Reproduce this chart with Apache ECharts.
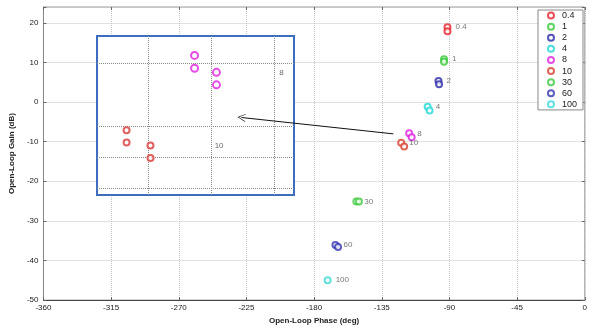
<!DOCTYPE html>
<html>
<head>
<meta charset="utf-8">
<script src="https://cdn.jsdelivr.net/npm/echarts@6/dist/echarts.min.js"></script>
<style>
html,body{margin:0;padding:0;background:#fff;}
#c{width:590px;height:330px;}
</style>
</head>
<body>
<div id="c"></div>
<script>
// ---- data ----
const seriesNames = ['0.4','1','2','4','8','10','30','60','100'];
const phase04 = [-91.3, -91.3];   const gain04 = [18.9, 17.9];
const phase1  = [-93.6, -93.6];   const gain1  = [10.8, 10.2];
const phase2  = [-97.3, -96.9];   const gain2  = [5.3, 4.5];
const phase4  = [-104.5, -103.2]; const gain4  = [-1.2, -2.1];
const phase8  = [-116.8, -115.1]; const gain8  = [-7.9, -8.9];
const phase10 = [-122.1, -120.1]; const gain10 = [-10.3, -11.2];
const phase30 = [-151.9, -150.2]; const gain30 = [-25.1, -25.1];
const phase60 = [-165.8, -164.1]; const gain60 = [-36.1, -36.6];
const phase100= [-171.0];         const gain100= [-45.0];
const phaseSets = [phase04, phase1, phase2, phase4, phase8, phase10, phase30, phase60, phase100];
const gainSets  = [gain04, gain1, gain2, gain4, gain8, gain10, gain30, gain60, gain100];

const xTicks = [-360, 0, 45];   // min, max, interval
const yTicks = [-50, 24, 10];

// inset (magnified view of the 8 and 10 groups)
const insetPhase8 = [-121.3, -121.3, -119.56, -119.56];
const insetGain8  = [-5.74, -6.15, -6.28, -6.68];
const insetPhase10 = [-126.7, -126.7, -124.8, -124.8];
const insetGain10  = [-8.13, -8.52, -8.62, -9.02];
const insetLabelText = ['8', '10'];
const insetLabelPhase = [-114.4, -119.35];
const insetLabelGain = [-6.29, -8.62];
const insetGridPhase = [-125, -120, -115];
const insetGridGain = [-6, -8, -9, -10];
const insetRangePhase = [-129.05, -113.4];
const insetRangeGain = [-10.2, -5.12];

// arrow from the main 8/10 group to the inset
const arrowFrom = [-127.3, -8.03];
const arrowTo = [-228.3, -3.9];

// ---- styles ----
const colors = ['#e3262c','#36c936','#2a2aa6','#22d8d8','#dd22dd','#d8402e','#3fc93f','#3434b0','#3cdada'];
const font = 'Liberation Sans, Arial, sans-serif';

const chart = echarts.init(document.getElementById('c'));

const mainSeries = seriesNames.map((name, i) => ({
  name: name,
  type: 'scatter',
  xAxisIndex: 0, yAxisIndex: 0,
  symbol: 'emptyCircle',
  symbolSize: 6,
  itemStyle: { color: colors[i], borderColor: colors[i], borderWidth: 2.5 },
  z: 3,
  data: phaseSets[i].map((p, k) => {
    const d = { value: [p, gainSets[i][k]] };
    if (k === 0) {
      d.label = { show: true, position: 'right', distance: 4, formatter: name,
        color: '#555', fontSize: 8, fontFamily: font };
    }
    return d;
  })
}));

const option = {
  animation: false,
  backgroundColor: '#fff',
  textStyle: { fontFamily: font },
  legend: {
    data: seriesNames,
    orient: 'vertical',
    right: 7, top: 10,
    padding: [0, 6, 0, 9],
    itemGap: 0,
    itemWidth: 12, itemHeight: 6,
    borderColor: '#888', borderWidth: 1,
    backgroundColor: '#fff',
    textStyle: { fontSize: 9, color: '#222', lineHeight: 11.1, fontFamily: font },
    itemStyle: { borderWidth: 2 }
  },
  grid: [
    { left: 41, right: 5, top: 7, bottom: 25, show: true, borderColor: '#999', borderWidth: 1, backgroundColor: '#fff' },
    { left: 97, top: 36, width: 197, height: 159, show: true, backgroundColor: '#fff', borderColor: '#3d6dbf', borderWidth: 2, z: 5 }
  ],
  xAxis: [
    { type: 'value', gridIndex: 0, min: xTicks[0], max: xTicks[1], interval: xTicks[2],
      name: 'Open-Loop Phase (deg)', nameLocation: 'middle', nameGap: 12,
      nameTextStyle: { fontSize: 8, color: '#222', fontWeight: 'bold', fontFamily: font },
      axisLine: { show: true, onZero: false, lineStyle: { color: '#444' } },
      axisTick: { show: true, inside: true, length: 3, lineStyle: { color: '#666' } },
      axisLabel: { fontSize: 8, color: '#222', margin: 4, fontFamily: font },
      splitLine: { show: true, lineStyle: { color: '#c4c4c4', type: 'dotted', width: 1 } } },
    { type: 'value', gridIndex: 0, position: 'top', min: xTicks[0], max: xTicks[1], interval: xTicks[2],
      axisLine: { show: false, onZero: false }, axisLabel: { show: false },
      axisTick: { show: true, inside: true, length: 3, lineStyle: { color: '#666' } },
      splitLine: { show: false } },
    { type: 'value', gridIndex: 1, min: insetRangePhase[0], max: insetRangePhase[1], show: false, z: 6 }
  ],
  yAxis: [
    { type: 'value', gridIndex: 0, min: yTicks[0], max: yTicks[1], interval: yTicks[2],
      name: 'Open-Loop Gain (dB)', nameLocation: 'middle', nameGap: 19, nameRotate: 90,
      nameTextStyle: { fontSize: 8, color: '#222', fontWeight: 'bold', fontFamily: font },
      axisLine: { show: true, onZero: false, lineStyle: { color: '#888' } },
      axisTick: { show: true, inside: true, length: 3, lineStyle: { color: '#666' } },
      axisLabel: { fontSize: 8, color: '#222', margin: 5, fontFamily: font,
        formatter: v => (v % 10 === 0 ? String(v) : '') },
      splitLine: { show: true, lineStyle: { color: '#c4c4c4', type: 'dotted', width: 1 } } },
    { type: 'value', gridIndex: 0, position: 'right', min: yTicks[0], max: yTicks[1], interval: yTicks[2],
      axisLine: { show: false, onZero: false }, axisLabel: { show: false },
      axisTick: { show: true, inside: true, length: 3, lineStyle: { color: '#666' } },
      splitLine: { show: false } },
    { type: 'value', gridIndex: 1, min: insetRangeGain[0], max: insetRangeGain[1], show: false, z: 6 }
  ],
  series: mainSeries.concat([
    {
      name: 'inset8', type: 'scatter', xAxisIndex: 2, yAxisIndex: 2, z: 8,
      symbol: 'emptyCircle', symbolSize: 7,
      itemStyle: { color: '#e020e0', borderColor: '#e020e0', borderWidth: 3 },
      data: insetPhase8.map((p, k) => [p, insetGain8[k]]),
      markLine: {
        silent: true, symbol: 'none', animation: false,
        label: { show: false },
        lineStyle: { color: '#888', type: 'dotted', width: 1 },
        data: insetGridPhase.map(v => ({ xAxis: v })).concat(insetGridGain.map(v => ({ yAxis: v })))
      }
    },
    {
      name: 'inset10', type: 'scatter', xAxisIndex: 2, yAxisIndex: 2, z: 8,
      symbol: 'emptyCircle', symbolSize: 6,
      itemStyle: { color: '#d83a3a', borderColor: '#d83a3a', borderWidth: 1.5 },
      data: insetPhase10.map((p, k) => [p, insetGain10[k]])
    },
    {
      name: 'insetLabels', type: 'scatter', xAxisIndex: 2, yAxisIndex: 2, z: 8,
      symbolSize: 0,
      label: { show: true, position: 'inside', formatter: p => p.data[2], color: '#444', fontSize: 8, fontFamily: font },
      data: insetLabelText.map((t, k) => [insetLabelPhase[k], insetLabelGain[k], t])
    },
    {
      name: 'arrow', type: 'lines', coordinateSystem: 'cartesian2d', xAxisIndex: 0, yAxisIndex: 0, z: 20,
      symbol: ['none', 'path://M0,0 L6,11 L5,11 L0,2 L-5,11 L-6,11 Z'], symbolSize: [7, 8],
      lineStyle: { color: '#111', width: 1, opacity: 1 },
      data: [{ coords: [arrowFrom, arrowTo] }]
    }
  ])
};
chart.setOption(option);
</script>
</body>
</html>
